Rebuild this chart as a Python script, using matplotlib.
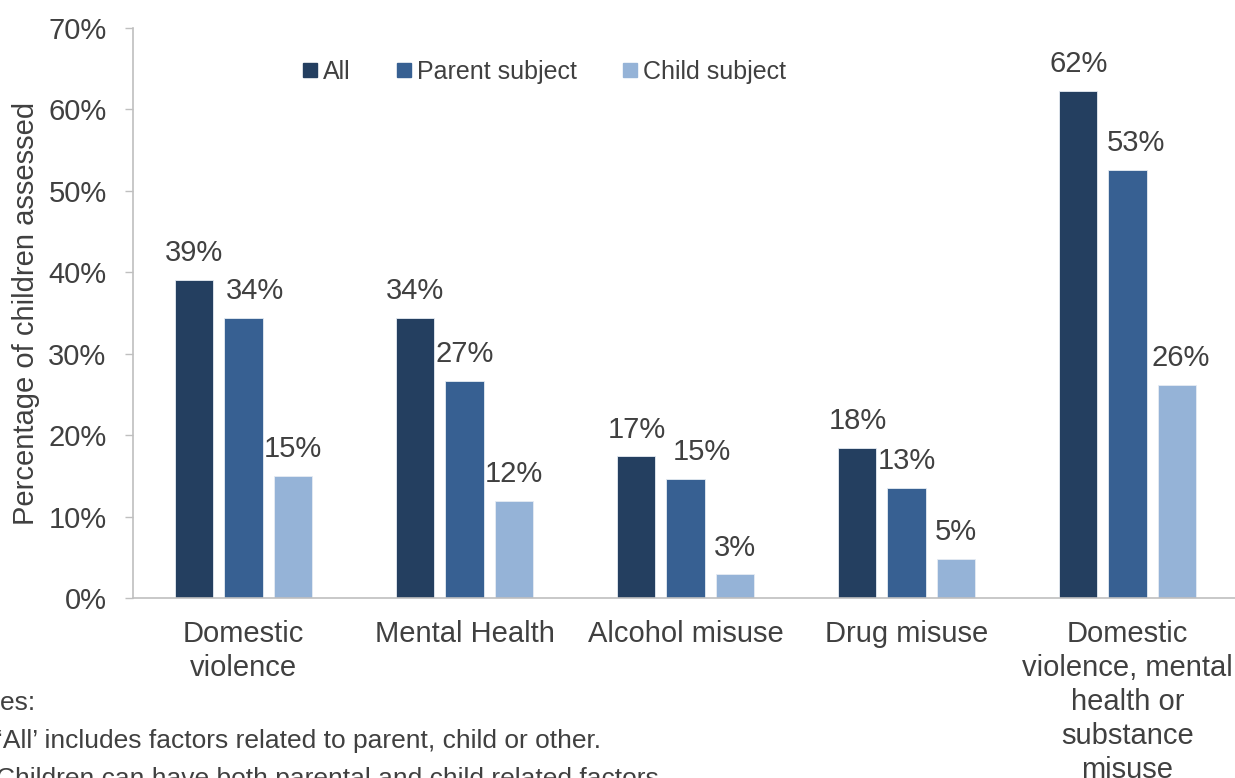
import numpy as np
from matplotlib import pyplot as plt
from matplotlib.lines import Line2D
from matplotlib.ticker import PercentFormatter

# data
categories = ["Domestic\nviolence", "Mental Health", "Alcohol misuse",
              "Drug misuse",
              "Domestic\nviolence, mental\nhealth or\nsubstance\nmisuse"]
series_names = ["All", "Parent subject", "Child subject"]
all_vals = [0.391, 0.344, 0.174, 0.184, 0.623]
parent_vals = [0.344, 0.267, 0.146, 0.135, 0.526]
child_vals = [0.150, 0.119, 0.029, 0.048, 0.262]
value_labels = [["39%", "34%", "17%", "18%", "62%"],
                ["34%", "27%", "15%", "13%", "53%"],
                ["15%", "12%", "3%", "5%", "26%"]]
notes = ["Notes:",
         "\u2018All\u2019 includes factors related to parent, child or other.",
         "Children can have both parental and child related factors."]

colors = ["#243F60", "#376092", "#95B3D7"]
text_col = "#404040"
axis_col = "#BFBFBF"
# Excel pushed a few labels sideways, in points
nudge = {(1, 0): 8, (1, 2): 12, (1, 4): 6, (2, 4): 3}

plt.rcParams['font.family'] = ['Liberation Sans', 'DejaVu Sans']
plt.rcParams['text.color'] = text_col

W, H = 1235, 778
fig = plt.figure(figsize=(W / 100, H / 100), dpi=100)
ax = fig.add_axes([133 / W, 1 - 598 / H, 1105 / W, 570 / H])

x = np.arange(len(categories))
width = 0.172
pitch = 0.222
for k, vals in enumerate([all_vals, parent_vals, child_vals]):
    xs = x + (k - 1) * pitch
    ax.bar(xs, vals, width, color=colors[k], label=series_names[k],
           edgecolor="#E6ECF3", linewidth=0.6)
    for i, v in enumerate(vals):
        ax.annotate(value_labels[k][i], (xs[i], v),
                    xytext=(nudge.get((k, i), 0), 13.5),
                    textcoords="offset points", ha="center", va="baseline",
                    fontsize=21, color=text_col)

ax.set_xlim(-0.5, len(categories) - 0.5)
ax.set_ylim(0, 0.7)
ax.set_yticks(np.arange(0, 0.71, 0.1))
ax.yaxis.set_major_formatter(PercentFormatter(1.0, decimals=0))
ax.set_xticks(x)
ax.set_xticklabels(categories, fontsize=21, linespacing=1.27)
ax.tick_params(axis="x", length=0, pad=16, colors=text_col)
ax.tick_params(axis="y", length=6, width=1, color=axis_col, pad=13,
               labelsize=21, labelcolor=text_col)
ax.set_ylabel("Percentage of children assessed", fontsize=21,
              color=text_col, labelpad=6)
for s in ["top", "right"]:
    ax.spines[s].set_visible(False)
for s in ["left", "bottom"]:
    ax.spines[s].set_color(axis_col)
    ax.spines[s].set_linewidth(1.2)

handles = [Line2D([], [], marker="s", linestyle="none", markersize=9.5,
                  color=c) for c in colors]
fig.legend(handles, series_names, loc="center", ncol=3,
           bbox_to_anchor=(545 / W, 1 - 72 / H), frameon=False,
           fontsize=18, handlelength=0.5, handletextpad=0.25,
           columnspacing=1.9, labelcolor=text_col)

# notes, cut off at the left edge like the source image
fig.text(-40 / W, 1 - 710 / H, notes[0], fontsize=19, va="baseline")
fig.text(-3 / W, 1 - 748 / H, notes[1], fontsize=19, va="baseline")
fig.text(-4 / W, 1 - 786 / H, notes[2], fontsize=19, va="baseline")

fig.savefig("out.png", dpi=100)
